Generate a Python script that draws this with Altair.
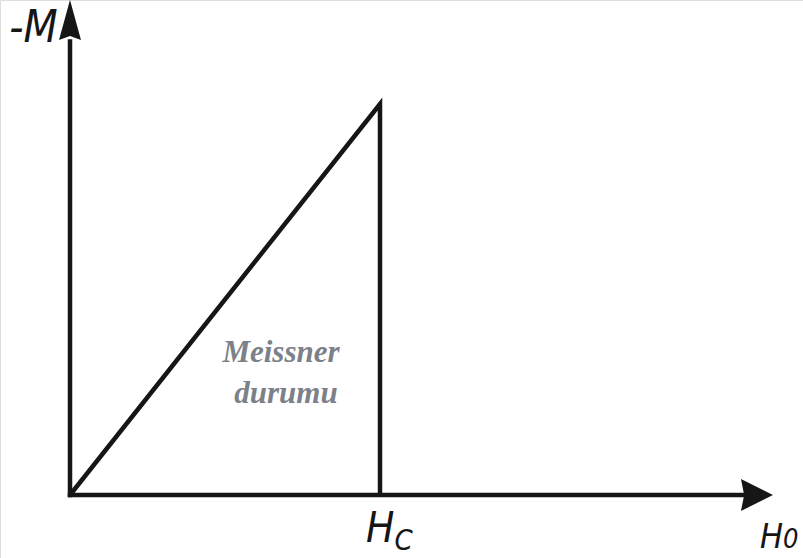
import altair as alt
import pandas as pd

# Critical field Hc and the magnetisation reached there (normalised units)
H_C = 1.0
M_C = 1.0

# Magnetisation curve of a type-I superconductor: -M rises linearly up to Hc, then drops to zero
curve_h = [0.0, H_C, H_C]
curve_m = [0.0, M_C, 0.0]

# Axis extents (data units)
x_axis_end = 2.19
y_axis_end = 1.16

# Arrow head centres
x_arrow = (2.216, 0.0)
y_arrow = (0.0, 1.215)

INK = "#161616"
SANS = "Liberation Sans Narrow, DejaVu Sans Condensed, Liberation Sans, Arial"
SERIF = "Liberation Serif, Times New Roman, serif"

x_scale = alt.Scale(domain=[-0.2258, 2.3645], nice=False, zero=False)
y_scale = alt.Scale(domain=[-0.1611, 1.2660], nice=False, zero=False)
X = lambda f: alt.X(f, type="quantitative", scale=x_scale, axis=None)
Y = lambda f: alt.Y(f, type="quantitative", scale=y_scale, axis=None)

curve_df = pd.DataFrame({"h": curve_h, "m": curve_m, "order": range(len(curve_h))})
axes_df = pd.DataFrame({
    "x": [0.0, 0.0], "y": [0.0, 0.0],
    "x2": [x_axis_end, 0.0], "y2": [0.0, y_axis_end],
})

curve = alt.Chart(curve_df).mark_line(
    color=INK, strokeWidth=4.5, strokeJoin="miter", strokeCap="butt"
).encode(x=X("h"), y=Y("m"), order="order:Q")

axes = alt.Chart(axes_df).mark_rule(color=INK, strokeWidth=4.5, strokeCap="square").encode(
    x=X("x"), y=Y("y"), x2="x2:Q", y2="y2:Q"
)

arrow_up = alt.Chart(pd.DataFrame({"x": [y_arrow[0]], "y": [y_arrow[1]]})).mark_point(
    shape="M0,-1L0.55,1L0,0.8L-0.55,1Z", size=1600, filled=True, color=INK, opacity=1
).encode(x=X("x"), y=Y("y"))

arrow_right = alt.Chart(pd.DataFrame({"x": [x_arrow[0]], "y": [x_arrow[1]]})).mark_point(
    shape="M1,0L-1,1L-0.8,0L-1,-1Z", size=1024, filled=True, color=INK, opacity=1
).encode(x=X("x"), y=Y("y"))

# Axis labels
ylabel = alt.Chart(pd.DataFrame({"t": ["-M"], "x": [-0.040], "y": [1.1586]})).mark_text(
    font=SANS, fontStyle="italic", fontSize=44, align="right", baseline="alphabetic", color=INK
).encode(x=X("x"), y=Y("y"), text="t:N")

big_h = alt.Chart(pd.DataFrame({
    "t": ["H", "H"], "x": [0.955, 2.226], "y": [-0.1202, -0.1355], "s": [42, 34],
})).mark_text(
    font=SANS, fontStyle="italic", align="left", baseline="alphabetic", color=INK
).encode(x=X("x"), y=Y("y"), text="t:N", size=alt.Size("s:Q", scale=None, legend=None))

subs = alt.Chart(pd.DataFrame({
    "t": ["C", "0"], "x": [1.047, 2.300], "y": [-0.1407, -0.1355], "s": [29, 27],
})).mark_text(
    font=SANS, fontStyle="italic", align="left", baseline="alphabetic", color=INK
).encode(x=X("x"), y=Y("y"), text="t:N", size=alt.Size("s:Q", scale=None, legend=None))

region = alt.Chart(pd.DataFrame({
    "t": ["Meissner", "durumu"], "x": [0.6806, 0.6968], "y": [0.3402, 0.2353],
})).mark_text(
    font=SERIF, fontStyle="italic", fontWeight="bold", fontSize=31,
    align="center", baseline="alphabetic", color="#7c8189"
).encode(x=X("x"), y=Y("y"), text="t:N")

chart = alt.layer(
    axes, curve, arrow_up, arrow_right, ylabel, big_h, subs, region
).properties(
    width=803, height=558, autosize=alt.AutoSizeParams(type="none"), padding=0
).configure_view(stroke=None).configure(background="white")

chart.save("out.html", embed_options={"renderer": "svg", "actions": False})
